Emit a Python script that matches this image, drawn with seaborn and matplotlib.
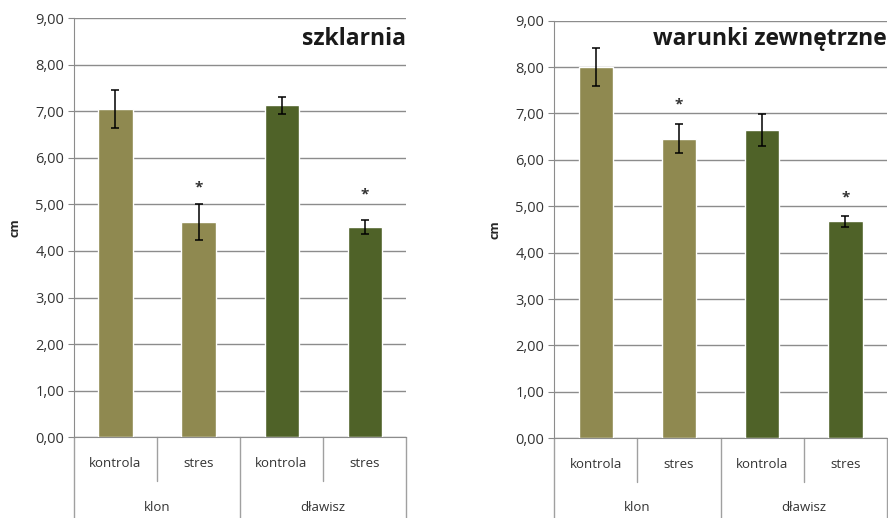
import pandas as pd
import matplotlib.pyplot as plt
import seaborn as sns
from matplotlib.ticker import FuncFormatter
import matplotlib.transforms as mtransforms

# Data
species = ["klon", "klon", "dławisz", "dławisz"]
treatment = ["kontrola", "stres", "kontrola", "stres"]
titles = ["szklarnia", "warunki zewnętrzne"]

szklarnia_mean = [7.05, 4.62, 7.13, 4.52]
szklarnia_err = [0.41, 0.39, 0.18, 0.15]
szklarnia_star = [None, 5.37, None, 5.22]

zewn_mean = [8.00, 6.46, 6.64, 4.68]
zewn_err = [0.41, 0.32, 0.35, 0.12]
zewn_star = [None, 7.20, None, 5.20]

palette = {"klon": "#8F8950", "dławisz": "#4F6228"}

sns.set_style("white")
plt.rcParams["font.family"] = ["Open Sans", "DejaVu Sans"]

fig = plt.figure(figsize=(8.88, 5.18), dpi=100)
ax1 = fig.add_axes([0.0833, 0.156, 0.374, 0.809])
ax2 = fig.add_axes([0.624, 0.154, 0.375, 0.806])


def draw_panel(ax, means, errs, stars, title, title_y):
    df = pd.DataFrame({
        "cond": [s + " " + t for s, t in zip(species, treatment)],
        "species": species,
        "treatment": treatment,
        "value": means,
    })
    sns.barplot(data=df, x="cond", y="value", hue="species", palette=palette,
                dodge=False, width=0.41, saturation=1, errorbar=None,
                legend=False, ax=ax, zorder=3)
    xs = list(range(len(df)))
    ax.errorbar(xs, means, yerr=errs, fmt="none", ecolor="black",
                elinewidth=1.1, capsize=3, capthick=1.1, zorder=4)
    for x, s in zip(xs, stars):
        if s is not None:
            ax.text(x, s, "*", ha="center", va="center", fontsize=11,
                    fontweight="bold", color="#333333")

    ax.set_ylim(0, 9)
    ax.set_xlim(-0.5, len(df) - 0.5)
    ax.set_yticks(range(0, 10))
    ax.yaxis.set_major_formatter(FuncFormatter(lambda v, p: f"{v:.2f}".replace(".", ",")))
    ax.tick_params(axis="y", labelsize=10.5, length=4, color="#888888",
                   labelcolor="#333333", left=True, pad=3)
    ax.yaxis.grid(True, color="#8c8c8c", linewidth=1)
    ax.set_axisbelow(True)
    for side in ["top", "right"]:
        ax.spines[side].set_visible(False)
    ax.spines["left"].set_color("#8c8c8c")
    ax.spines["bottom"].set_color("#8c8c8c")
    ax.set_xticks([])
    ax.set_xlabel("")
    ax.set_ylabel("cm", fontsize=9, fontweight="bold", labelpad=10)
    ax.text(1.0, title_y, title, transform=ax.transAxes, ha="right", va="center",
            fontsize=16.5, fontweight="bold", color="#1a1a1a")

    # two-level category axis drawn below the plot
    tr = mtransforms.blended_transform_factory(ax.transData, ax.transAxes)
    lc = "#a0a0a0"
    for x, t in zip(xs, treatment):
        ax.text(x, -0.062, t, transform=tr, ha="center", va="center",
                fontsize=9.5, color="#333333")
    groups = list(dict.fromkeys(species))
    for g in groups:
        idx = [i for i, s in enumerate(species) if s == g]
        ax.text(sum(idx) / len(idx), -0.167, g, transform=tr, ha="center",
                va="center", fontsize=9.5, color="#333333")
    # separators
    bounds = [-0.5] + [i + 0.5 for i in range(len(species) - 1)] + [len(species) - 0.5]
    for i, b in enumerate(bounds):
        inner = 0 < i < len(bounds) - 1 and species[i - 1] == species[i]
        bottom = -0.105 if inner else -0.2
        ax.plot([b, b], [0, bottom], transform=tr, color=lc, linewidth=1,
                clip_on=False)


draw_panel(ax1, szklarnia_mean, szklarnia_err, szklarnia_star, titles[0], 0.95)
draw_panel(ax2, zewn_mean, zewn_err, zewn_star, titles[1], 0.956)

fig.savefig("out.png", dpi=100)
